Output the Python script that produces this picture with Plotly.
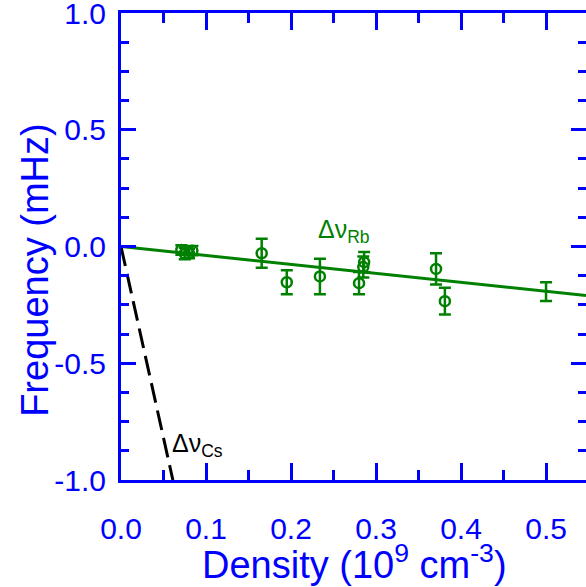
import plotly.graph_objects as go

# --- data ---
rb_density = [0.071, 0.075, 0.080, 0.084, 0.1655, 0.195, 0.234, 0.280, 0.285, 0.286, 0.3706, 0.381]
rb_shift   = [-0.015, -0.030, -0.030, -0.018, -0.029, -0.153, -0.128, -0.157, -0.088, -0.067, -0.096, -0.234]
rb_err     = [0.020, 0.025, 0.020, 0.020, 0.062, 0.051, 0.076, 0.048, 0.045, 0.043, 0.067, 0.057]

rb_bar_density = [0.50]
rb_bar_shift = [-0.193]
rb_bar_err = [0.040]

rb_fit_x = [0.0, 0.547]
rb_fit_y = [0.0, -0.210]

cs_x = [0.0, 0.061]
cs_y = [0.0, -1.0]

x_tickvals = [0.0, 0.1, 0.2, 0.3, 0.4, 0.5]
x_ticktext = ["0.0", "0.1", "0.2", "0.3", "0.4", "0.5"]
y_tickvals = [-1.0, -0.5, 0.0, 0.5, 1.0]
y_ticktext = ["-1.0", "-0.5", "0.0", "0.5", "1.0"]

BLUE = "#0000FF"
GREEN = "#008000"
FONT = "Arial, Liberation Sans, sans-serif"

fig = go.Figure()

fig.add_trace(go.Scatter(x=rb_fit_x, y=rb_fit_y, mode="lines",
                         line=dict(color=GREEN, width=3), showlegend=False))
fig.add_trace(go.Scatter(x=cs_x, y=cs_y, mode="lines",
                         line=dict(color="black", width=3, dash="20px,8px"), showlegend=False))
fig.add_trace(go.Scatter(x=rb_density, y=rb_shift, mode="markers",
                         marker=dict(symbol="circle-open", size=10, color=GREEN, line=dict(width=2.5, color=GREEN)),
                         error_y=dict(type="data", array=rb_err, visible=True, color=GREEN, thickness=2.5, width=6),
                         showlegend=False))
fig.add_trace(go.Scatter(x=rb_bar_density, y=rb_bar_shift, mode="markers",
                         marker=dict(size=1, color=GREEN),
                         error_y=dict(type="data", array=rb_bar_err, visible=True, color=GREEN, thickness=2.5, width=6),
                         showlegend=False))

axis_common = dict(
    showgrid=False, zeroline=False, showline=True, linecolor=BLUE, linewidth=3,
    mirror="allticks", ticks="inside", tickcolor=BLUE, tickwidth=3, automargin=False,
    ticklabeloverflow="allow",
    tickfont=dict(family=FONT, size=30, color=BLUE),
)

fig.update_xaxes(range=[0, 0.547], tickvals=x_tickvals, ticktext=x_ticktext, ticklen=17,
                 minor=dict(dtick=0.05, tick0=0, ticklen=10, tickwidth=3, tickcolor=BLUE, ticks="inside"),
                 ticklabelstandoff=20, **axis_common)
fig.update_yaxes(range=[-1, 1], tickvals=y_tickvals, ticktext=y_ticktext, ticklen=15,
                 minor=dict(dtick=0.125, tick0=0, ticklen=8, tickwidth=3, tickcolor=BLUE, ticks="inside"),
                 ticklabelstandoff=6, **axis_common)

fig.update_layout(
    width=586, height=587,
    margin=dict(l=121, r=0, t=13, b=107, autoexpand=False),
    paper_bgcolor="white", plot_bgcolor="white",
    annotations=[
        dict(text="Density (10<sup>9</sup> cm<sup>-3</sup>)", xref="paper", yref="paper",
             x=0.503, y=0, yshift=-82, xanchor="center", yanchor="middle", showarrow=False,
             font=dict(family=FONT, size=38, color=BLUE)),
        dict(text="Frequency (mHz)", xref="paper", yref="paper", textangle=-90,
             x=0, xshift=-86, y=0.45, xanchor="center", yanchor="middle", showarrow=False,
             font=dict(family=FONT, size=38, color=BLUE)),
        dict(text="Δν<sub>Rb</sub>", xref="x", yref="y", x=0.229, y=0.065,
             xanchor="left", yanchor="middle", showarrow=False,
             font=dict(family=FONT, size=25, color=GREEN)),
        dict(text="Δν<sub>Cs</sub>", xref="x", yref="y", x=0.0575, y=-0.848,
             xanchor="left", yanchor="middle", showarrow=False,
             font=dict(family=FONT, size=25, color="black")),
    ],
)

fig.write_html("out.html", config={"displayModeBar": False},
               post_script="document.body.style.margin='0';document.body.style.overflow='hidden';")
